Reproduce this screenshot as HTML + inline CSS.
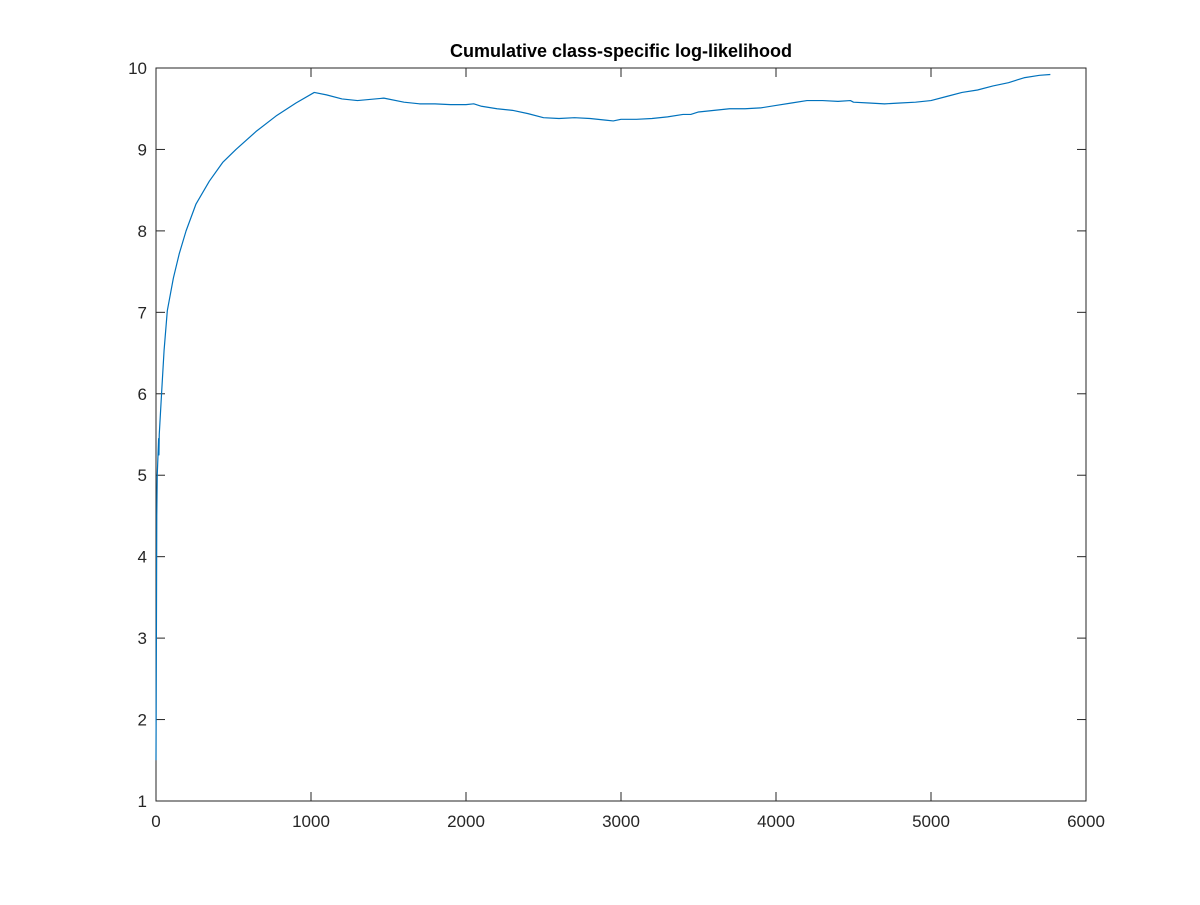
<!DOCTYPE html>
<html><head><meta charset="utf-8"><style>
body{margin:0;background:#fff}
svg text{font-family:"Liberation Sans",Arial,sans-serif;fill:#262626}
</style></head><body>
<svg id="chart" width="1200" height="900" xmlns="http://www.w3.org/2000/svg"></svg>
<script>
const xTicks=[0,1000,2000,3000,4000,5000,6000];
const yTicks=[1,2,3,4,5,6,7,8,9,10];
const xs=[0,5,8,14,17,19,21,37,52,73,112,150,194,258,344,430,516,645,774,903,1021,1100,1200,1300,1470,1600,1700,1800,1900,2000,2050,2100,2200,2300,2400,2500,2600,2700,2800,2900,2950,3000,3100,3200,3300,3400,3450,3500,3600,3700,3800,3900,4000,4100,4200,4300,4400,4480,4500,4600,4700,4800,4900,5000,5100,5200,5300,5400,5500,5600,5700,5770];
const ys=[1.5,4.5,5.0,5.3,5.45,5.25,5.5,6.04,6.53,7.02,7.42,7.72,8.0,8.33,8.61,8.84,9.0,9.22,9.41,9.57,9.70,9.67,9.62,9.6,9.63,9.58,9.56,9.56,9.55,9.55,9.56,9.53,9.5,9.48,9.44,9.39,9.38,9.39,9.38,9.36,9.35,9.37,9.37,9.38,9.4,9.43,9.43,9.46,9.48,9.5,9.5,9.51,9.54,9.57,9.6,9.6,9.59,9.6,9.58,9.57,9.56,9.57,9.58,9.6,9.65,9.7,9.73,9.78,9.82,9.88,9.91,9.92];
const L=156,R=1086,T=68,B=801;
const sx=v=>L+(v-0)/6000*(R-L);
const sy=v=>B-(v-1)/9*(B-T);
const svg=document.getElementById('chart');
const NS='http://www.w3.org/2000/svg';
function mk(tag,attrs,name){const e=document.createElementNS(NS,tag);for(const k in attrs)e.setAttribute(k,attrs[k]);


svg.appendChild(e);return e;}
mk('rect',{x:L,y:T,width:R-L,height:B-T,fill:'#fff',stroke:'#262626','stroke-width':1},'plot-area');
xTicks.forEach(t=>{const x=sx(t);
mk('line',{x1:x,x2:x,y1:B,y2:B-9,stroke:'#262626'},'x-tick');
mk('line',{x1:x,x2:x,y1:T,y2:T+9,stroke:'#262626'},'x-tick-top');
const tx=mk('text',{x:x,y:B+26,'text-anchor':'middle','font-size':17},'x-tick-label');tx.textContent=t;});
yTicks.forEach(t=>{const y=sy(t);
mk('line',{x1:L,x2:L+9,y1:y,y2:y,stroke:'#262626'},'y-tick');
mk('line',{x1:R,x2:R-9,y1:y,y2:y,stroke:'#262626'},'y-tick-right');
const tx=mk('text',{x:L-9,y:y+6,'text-anchor':'end','font-size':17},'y-tick-label');tx.textContent=t;});
const d=xs.map((v,i)=>(i?'L':'M')+sx(v).toFixed(2)+','+sy(ys[i]).toFixed(2)).join(' ');
mk('path',{d:d,fill:'none',stroke:'#0072BD','stroke-width':1.2,'stroke-linejoin':'round'},'log-likelihood-line');
const tt=mk('text',{x:621,y:57,'text-anchor':'middle','font-size':18,'font-weight':'bold',style:'fill:#000'},'chart-title');
tt.textContent='Cumulative class-specific log-likelihood';
</script>
</body></html>
